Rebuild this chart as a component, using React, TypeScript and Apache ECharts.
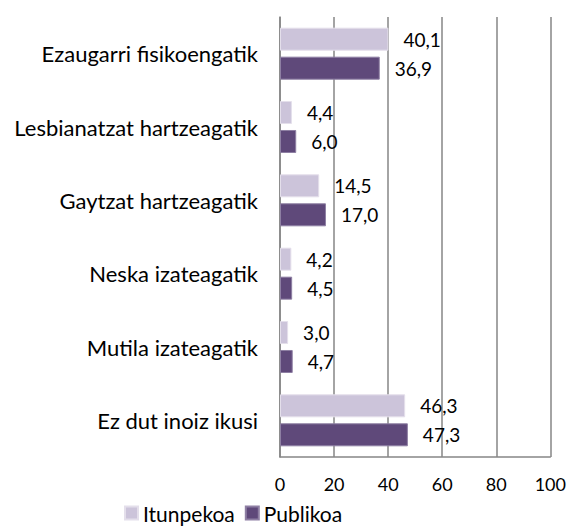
import React, { useEffect, useRef } from "react";
import * as echarts from "echarts";

const categories = [
  "Ezaugarri fisikoengatik",
  "Lesbianatzat hartzeagatik",
  "Gaytzat hartzeagatik",
  "Neska izateagatik",
  "Mutila izateagatik",
  "Ez dut inoiz ikusi",
];
const itunpekoa = [40.1, 4.4, 14.5, 4.2, 3.0, 46.3];
const publikoa = [36.9, 6.0, 17.0, 4.5, 4.7, 47.3];
const xTicks = { min: 0, max: 100, interval: 20 };

const FONT = "Lato";

export default function App() {
  const ref = useRef<HTMLDivElement>(null);
  useEffect(() => {
    if (!ref.current) return;
    const chart = echarts.init(ref.current, undefined, { renderer: "svg" });
    const fmt = (p: any) => Number(p.value).toFixed(1).replace(".", ",");
    const label = {
      show: true,
      position: "right",
      distance: 15,
      formatter: fmt,
      color: "#000",
      fontSize: 19,
      fontFamily: FONT,
    };
    chart.setOption({
      animation: false,
      textStyle: { fontFamily: FONT },
      grid: { left: 280, right: 17, top: 17, bottom: 70, containLabel: false },
      legend: {
        data: ["Itunpekoa", "Publikoa"],
        left: 124,
        top: 502,
        padding: 0,
        itemWidth: 13,
        itemHeight: 13,
        itemGap: 10,
        icon: "rect",
        textStyle: { fontSize: 21, lineHeight: 22, color: "#000", fontFamily: FONT },
      },
      xAxis: {
        type: "value",
        min: xTicks.min,
        max: xTicks.max,
        interval: xTicks.interval,
        axisLine: { show: true, lineStyle: { color: "#868686", width: 1.5 } },
        axisTick: { show: false },
        splitLine: { show: true, lineStyle: { color: "#868686", width: 1.5 } },
        axisLabel: { color: "#000", fontSize: 18, fontFamily: FONT, margin: 18 },
      },
      yAxis: {
        type: "category",
        inverse: true,
        data: categories,
        axisLine: { show: true, lineStyle: { color: "#868686", width: 1.5 } },
        axisTick: { show: false },
        axisLabel: { color: "#000", fontSize: 22, fontFamily: FONT, margin: 22 },
      },
      series: [
        {
          name: "Itunpekoa",
          type: "bar",
          data: itunpekoa,
          barWidth: 23,
          barGap: "26%",
          itemStyle: { color: "#CCC4DA", borderColor: "#E4DFEB", borderWidth: 1 },
          label,
        },
        {
          name: "Publikoa",
          type: "bar",
          data: publikoa,
          barWidth: 23,
          barGap: "26%",
          itemStyle: { color: "#5F497A", borderColor: "#8E7FA3", borderWidth: 1 },
          label,
        },
      ],
    });
    return () => chart.dispose();
  }, []);
  return (
    <div
      ref={ref}
      style={{ position: "absolute", left: 0, top: 0, width: 569, height: 527 }}
    />
  );
}
